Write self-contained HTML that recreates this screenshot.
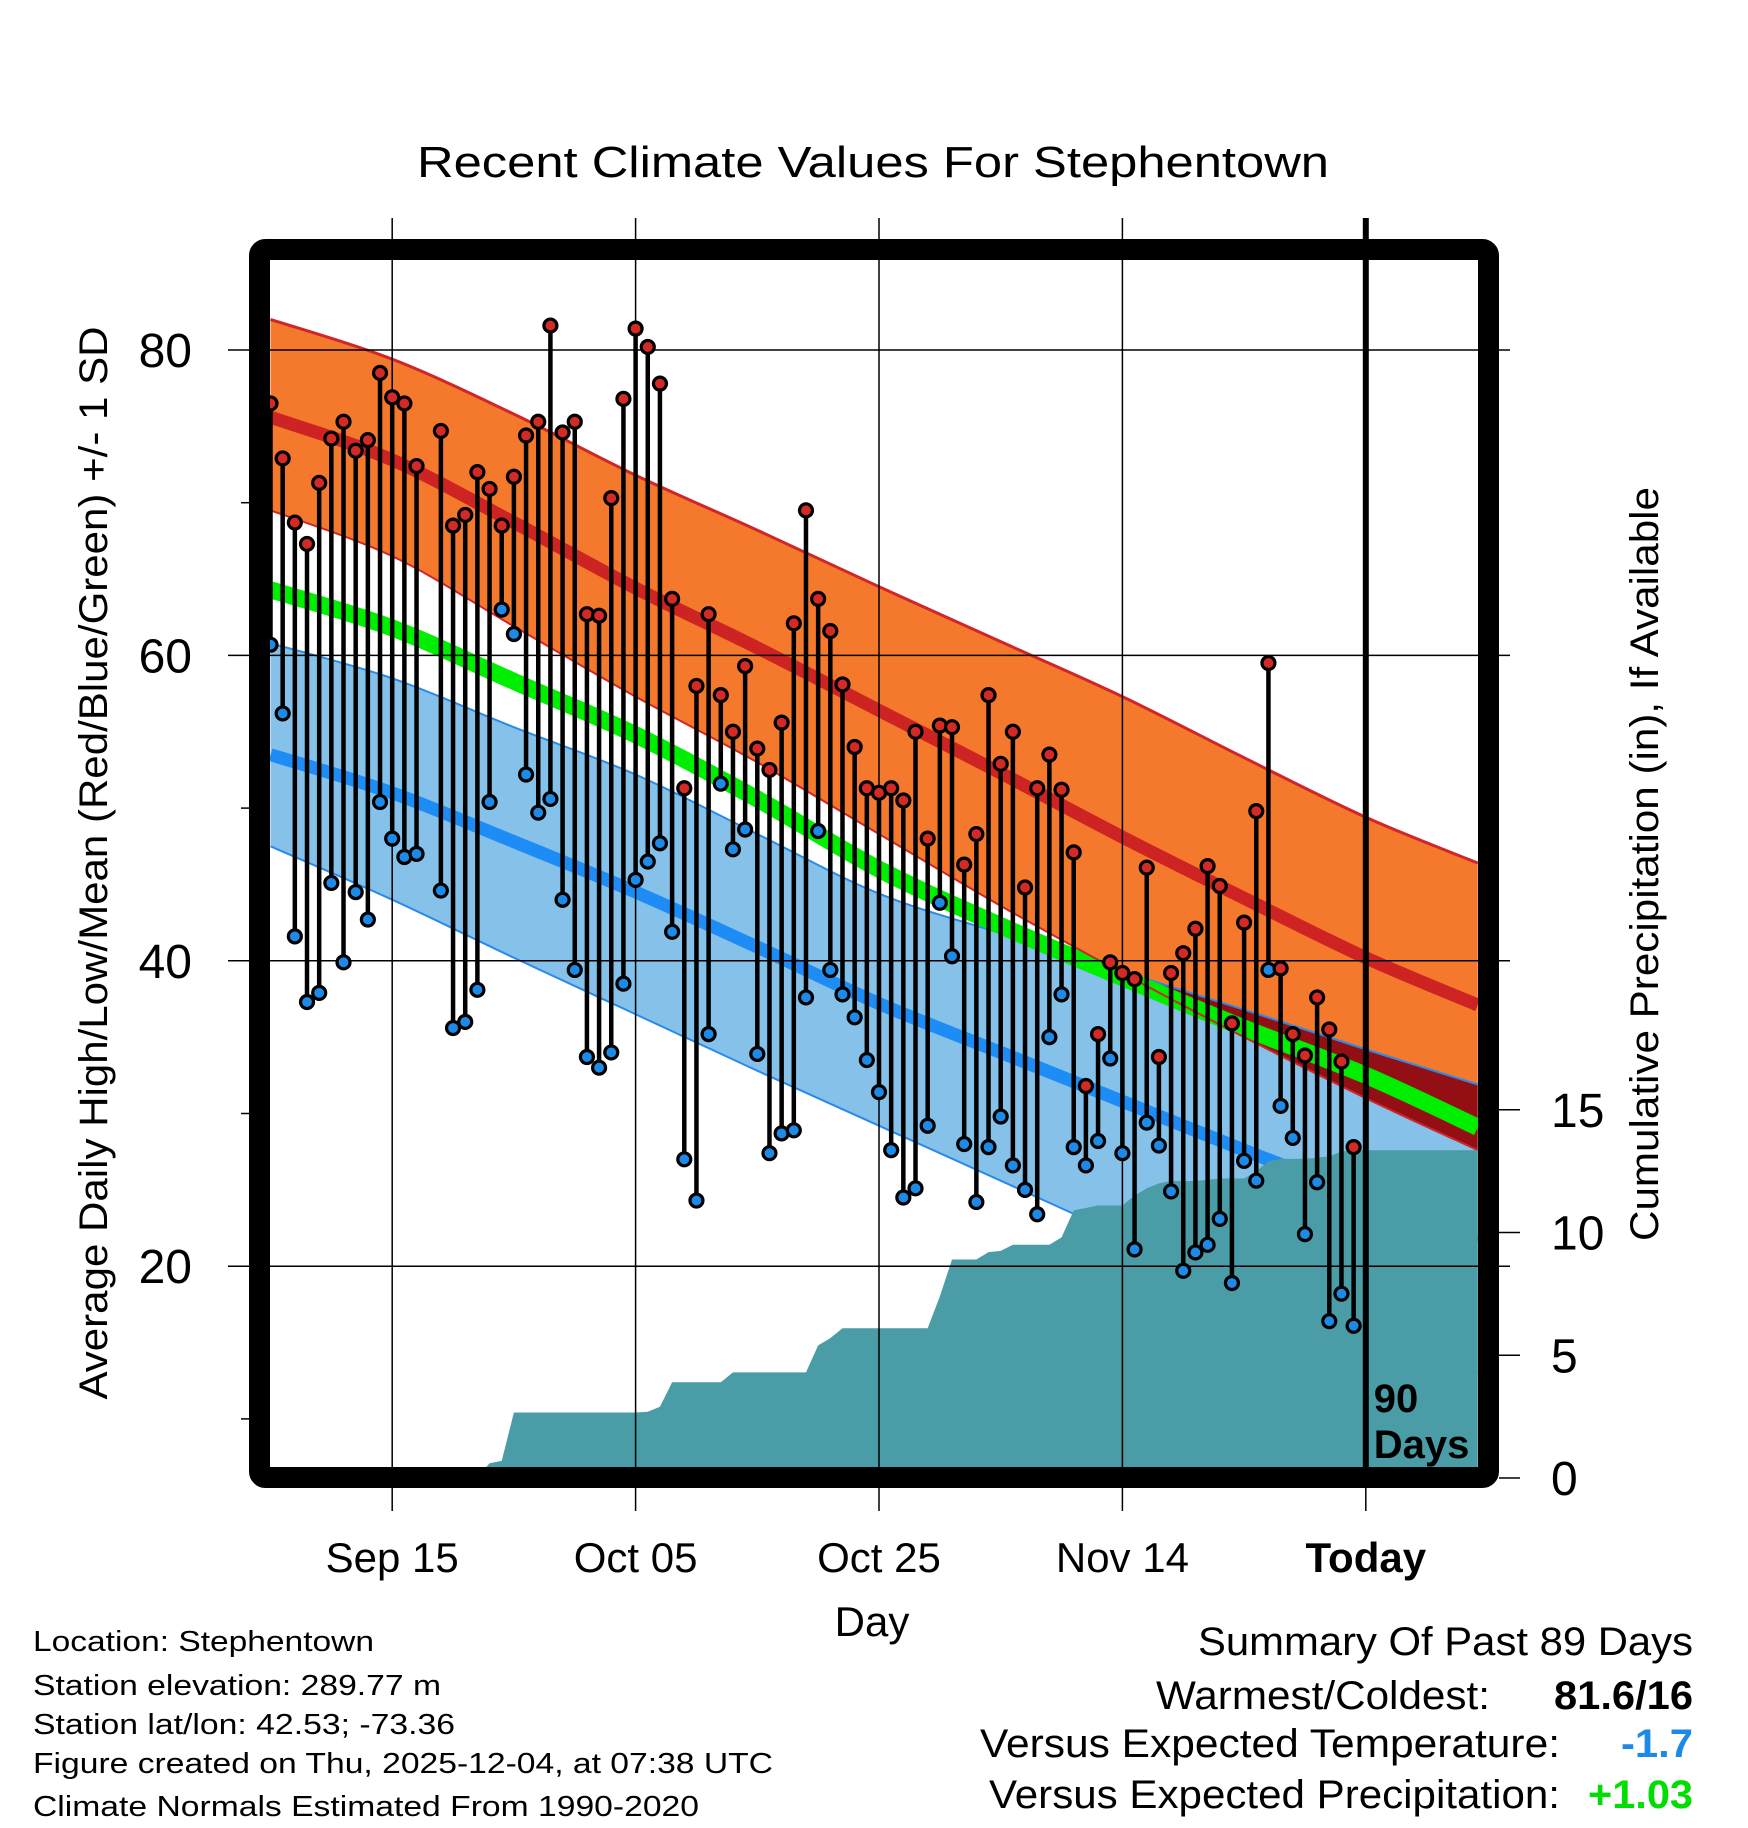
<!DOCTYPE html>
<html><head><meta charset="utf-8"><style>
html,body{margin:0;padding:0;background:#fff;}
svg{display:block;font-family:"Liberation Sans",sans-serif;}
</style></head><body>
<svg id="chart" width="1748" height="1828" viewBox="0 0 1748 1828" xmlns="http://www.w3.org/2000/svg">
<defs>
<clipPath id="plotClip"><rect x="270" y="260" width="1208" height="1208"/></clipPath>
<clipPath id="blueClip"><path id="blueClipPath" d=""/></clipPath>
</defs>
<text x="873" y="177" font-size="44" text-anchor="middle" textLength="912" lengthAdjust="spacingAndGlyphs">Recent Climate Values For Stephentown</text>
<g id="plot" clip-path="url(#plotClip)"></g>
<g id="grid"></g>
<g id="marks" clip-path="url(#plotClip)"></g>
<rect x="259.5" y="249.5" width="1229" height="1228" fill="none" stroke="#000" stroke-width="21" rx="6"/>
<g id="today"></g>
<g id="axes"></g>
<text transform="translate(107,863) rotate(-90)" font-size="40" text-anchor="middle" textLength="1073" lengthAdjust="spacingAndGlyphs">Average Daily High/Low/Mean (Red/Blue/Green) +/- 1 SD</text>
<text transform="translate(1658,864) rotate(-90)" font-size="40" text-anchor="middle" textLength="754" lengthAdjust="spacingAndGlyphs">Cumulative Precipitation (in), If Available</text>
<text x="872" y="1636" font-size="42" text-anchor="middle">Day</text>
<g font-size="29">
<text x="33" y="1651" textLength="341" lengthAdjust="spacingAndGlyphs">Location: Stephentown</text>
<text x="33" y="1695" textLength="408" lengthAdjust="spacingAndGlyphs">Station elevation: 289.77 m</text>
<text x="33" y="1734" textLength="422" lengthAdjust="spacingAndGlyphs">Station lat/lon: 42.53; -73.36</text>
<text x="33" y="1773" textLength="740" lengthAdjust="spacingAndGlyphs">Figure created on Thu, 2025-12-04, at 07:38 UTC</text>
<text x="33" y="1816" textLength="666" lengthAdjust="spacingAndGlyphs">Climate Normals Estimated From 1990-2020</text>
</g>
<g font-size="40">
<text x="1693" y="1655" text-anchor="end" textLength="495" lengthAdjust="spacingAndGlyphs">Summary Of Past 89 Days</text>
<text x="1490" y="1709" text-anchor="end" textLength="334" lengthAdjust="spacingAndGlyphs">Warmest/Coldest:</text>
<text x="1693" y="1709" text-anchor="end" font-weight="bold" textLength="139" lengthAdjust="spacingAndGlyphs">81.6/16</text>
<text x="1560" y="1757" text-anchor="end" textLength="580" lengthAdjust="spacingAndGlyphs">Versus Expected Temperature:</text>
<text x="1693" y="1757" text-anchor="end" font-weight="bold" fill="#1e8ae8" textLength="72" lengthAdjust="spacingAndGlyphs">-1.7</text>
<text x="1560" y="1808" text-anchor="end" textLength="571" lengthAdjust="spacingAndGlyphs">Versus Expected Precipitation:</text>
<text x="1693" y="1808" text-anchor="end" font-weight="bold" fill="#00dd00" textLength="105" lengthAdjust="spacingAndGlyphs">+1.03</text>
</g>
</svg>
<script>
// ---- data ----
const highs = [76.5,72.9,68.7,67.3,71.3,74.2,75.3,73.4,74.1,78.5,
76.9,76.5,72.4,null,74.7,68.5,69.2,72.0,70.9,68.5,
71.7,74.4,75.3,81.6,74.6,75.3,62.7,62.6,70.3,76.8,
81.4,80.2,77.8,63.7,51.3,58.0,62.7,57.4,55.0,59.3,
53.9,52.5,55.6,62.1,69.5,63.7,61.6,58.1,54.0,51.3,
51.0,51.3,50.5,55.0,48.0,55.4,55.3,46.3,48.3,57.4,
52.9,55.0,44.8,51.3,53.5,51.2,47.1,31.8,35.2,39.9,
39.2,38.8,46.1,33.7,39.2,40.5,42.1,46.2,44.9,35.9,
42.5,49.8,59.5,39.5,35.2,33.8,37.6,35.5,33.4,27.8];
const lows = [60.7,56.2,41.6,37.3,37.9,45.1,39.9,44.5,42.7,50.4,
48.0,46.8,47.0,null,44.6,35.6,36.0,38.1,50.4,63.0,
61.4,52.2,49.7,50.6,44.0,39.4,33.7,33.0,34.0,38.5,
45.3,46.5,47.7,41.9,27.0,24.3,35.2,51.6,47.3,48.6,
33.9,27.4,28.7,28.9,37.6,48.5,39.4,37.8,36.3,33.5,
31.4,27.6,24.5,25.1,29.2,43.8,40.3,28.0,24.2,27.8,
29.8,26.6,25.0,23.4,35.0,37.8,27.8,26.6,28.2,33.6,
27.4,21.1,29.4,27.9,24.9,19.7,20.9,21.4,23.1,18.9,
26.9,25.6,39.4,30.5,28.4,22.1,25.5,16.4,18.2,16.1];
const precip = [0,0,0,0,0,0,0,0,0,0,
0,0,0,0,0,0,0,0.05,0.6,0.7,
2.67,2.67,2.67,2.67,2.67,2.67,2.67,2.67,2.67,2.67,
2.67,2.7,2.9,3.9,3.9,3.9,3.9,3.9,4.3,4.3,
4.3,4.3,4.3,4.3,4.3,5.4,5.7,6.1,6.1,6.1,
6.1,6.1,6.1,6.1,6.1,7.4,8.9,8.9,8.9,9.2,
9.25,9.5,9.5,9.5,9.5,9.8,10.9,11.0,11.1,11.1,
11.1,11.5,11.8,12.0,12.1,12.1,12.1,12.15,12.2,12.2,
12.2,12.5,12.9,13.0,13.0,13.0,13.05,13.1,13.3,13.35];
const normDays   = [0,10,20,30,40,50,60,70,80,90,99.2];
const highPlusSD = [82.0,79.4,75.8,71.8,68.2,64.5,60.9,57.3,53.3,49.4,46.4];
const normHigh   = [75.6,72.8,68.7,64.4,60.5,56.4,52.3,48.1,44.1,40.2,37.1];
const highMinusSD= [69.5,66.5,61.9,57.3,53.0,48.3,43.6,39.2,35.0,31.0,27.6];
const normMean   = [64.3,61.8,58.3,54.8,50.6,46.0,42.3,38.9,35.6,32.5,29.1];
const lowPlusSD  = [60.8,58.5,55.3,52.2,48.3,44.4,41.8,39.3,36.8,34.2,31.9];
const normLow    = [53.5,51.0,47.8,44.5,40.9,37.2,34.0,30.8,27.6,24.5,21.6];
const lowMinusSD = [47.5,44.0,40.2,36.5,32.8,29.2,25.6,22.0,18.6,15.5,13.0];
const tempTicks = [80,60,40,20];
const tempMinorTicks = [70,50,30,10];
const precipTicks = [0,5,10,15];
const dateTickDays = [10,30,50,70,90];
const dateTickLabels = ["Sep 15","Oct 05","Oct 25","Nov 14","Today"];
const lastDay = 99.2;

// ---- scales ----
const xD = d => 270.5 + d * 12.17;
const yT = v => 350 + (80 - v) * 15.27;
const yP = p => 1478 - p * 24.55;
const NS = "http://www.w3.org/2000/svg";
function mk(tag, attrs, parent) {
  const e = document.createElementNS(NS, tag);
  for (const k in attrs) e.setAttribute(k, attrs[k]);
  parent.appendChild(e);
  return e;
}
function pts(arr) { return normDays.map((d, i) => [xD(d), yT(arr[i])]); }
// Catmull-Rom spline segments (without the initial move)
function splineSeg(p) {
  let s = "";
  for (let i = 0; i < p.length - 1; i++) {
    const p0 = p[Math.max(i - 1, 0)], p1 = p[i], p2 = p[i + 1], p3 = p[Math.min(i + 2, p.length - 1)];
    const c1x = p1[0] + (p2[0] - p0[0]) / 6, c1y = p1[1] + (p2[1] - p0[1]) / 6;
    const c2x = p2[0] - (p3[0] - p1[0]) / 6, c2y = p2[1] - (p3[1] - p1[1]) / 6;
    s += " C" + c1x + "," + c1y + " " + c2x + "," + c2y + " " + p2[0] + "," + p2[1];
  }
  return s;
}
function linePath(arr) { const p = pts(arr); return "M" + p[0][0] + "," + p[0][1] + splineSeg(p); }
function bandPath(top, bot) {
  const a = pts(top), b = pts(bot).reverse();
  return "M" + a[0][0] + "," + a[0][1] + splineSeg(a) + " L" + b[0][0] + "," + b[0][1] + splineSeg(b) + " Z";
}
const plot = document.getElementById("plot");
const blueBand = bandPath(lowPlusSD, lowMinusSD);
const orangeBand = bandPath(highPlusSD, highMinusSD);
document.getElementById("blueClipPath").setAttribute("d", blueBand);

let e;
e = mk("path", {d: blueBand, fill: "#85c1e9"}, plot);


e = mk("path", {d: orangeBand, fill: "#f4792d"}, plot);


e = mk("path", {d: orangeBand, fill: "#930f14", "clip-path": "url(#blueClip)"}, plot);


e = mk("path", {d: linePath(normLow), fill: "none", stroke: "#1e8cf5", "stroke-width": 13}, plot);


e = mk("path", {d: linePath(lowPlusSD), fill: "none", stroke: "#2a8ae8", "stroke-width": 2}, plot);


e = mk("path", {d: linePath(lowMinusSD), fill: "none", stroke: "#2a8ae8", "stroke-width": 2}, plot);


e = mk("path", {d: linePath(normMean), fill: "none", stroke: "#00ee00", "stroke-width": 17}, plot);


e = mk("path", {d: linePath(highPlusSD), fill: "none", stroke: "#d0262a", "stroke-width": 3}, plot);


e = mk("path", {d: linePath(highMinusSD), fill: "none", stroke: "#d0262a", "stroke-width": 2}, plot);


e = mk("path", {d: linePath(normHigh), fill: "none", stroke: "#cd2323", "stroke-width": 13}, plot);



// precipitation area
let pd = "M" + xD(0) + ",1470";
precip.forEach((p, i) => { pd += " L" + xD(i) + "," + yP(p); });
pd += " L" + xD(lastDay) + "," + yP(precip[precip.length - 1]) + " L" + xD(lastDay) + ",1470 Z";
e = mk("path", {d: pd, fill: "#4a9ca6"}, plot);



// grid
const grid = document.getElementById("grid");
tempTicks.forEach(v => {
  const g = mk("line", {x1: 228, x2: 1510, y1: yT(v), y2: yT(v), stroke: "#000", "stroke-width": 1.5}, grid);
  
  
});
dateTickDays.slice(0, 4).forEach(d => {
  const g = mk("line", {x1: xD(d), x2: xD(d), y1: 218, y2: 1511, stroke: "#000", "stroke-width": 1.5}, grid);
  
  
});

// daily marks
const marks = document.getElementById("marks");
highs.forEach((h, i) => {
  const l = lows[i];
  if (h == null || l == null) return;
  const x = xD(i);
  const s = mk("line", {x1: x, x2: x, y1: yT(h), y2: yT(l), stroke: "#000", "stroke-width": 4.5}, marks);
  
  
  const c1 = mk("circle", {cx: x, cy: yT(h), r: 6.5, fill: "#d42a26", stroke: "#000", "stroke-width": 3.2}, marks);
  
  
  const c2 = mk("circle", {cx: x, cy: yT(l), r: 6.5, fill: "#1e8ae8", stroke: "#000", "stroke-width": 3.2}, marks);
  
  
});

// today marker
const today = document.getElementById("today");
e = mk("line", {x1: xD(90), x2: xD(90), y1: 218, y2: 1470, stroke: "#000", "stroke-width": 6}, today);


e = mk("line", {x1: xD(90), x2: xD(90), y1: 1488, y2: 1511, stroke: "#000", "stroke-width": 1.5}, today);


e = mk("text", {x: xD(90) + 8, y: 1412, "font-size": 40, "font-weight": "bold"}, today);
e.textContent = "90";


e = mk("text", {x: xD(90) + 8, y: 1458, "font-size": 40, "font-weight": "bold"}, today);
e.textContent = "Days";



// axes labels
const axes = document.getElementById("axes");
tempTicks.forEach(v => {
  const t = mk("text", {x: 192, y: yT(v) + 17, "font-size": 48, "text-anchor": "end"}, axes);
  t.textContent = v;
  
  
});
tempMinorTicks.forEach(v => {
  const t = mk("line", {x1: 241, x2: 250, y1: yT(v), y2: yT(v), stroke: "#000", "stroke-width": 1.5}, axes);
  
  
});
precipTicks.forEach(p => {
  const t = mk("line", {x1: 1499, x2: 1520, y1: yP(p), y2: yP(p), stroke: "#000", "stroke-width": 1.5}, axes);
  
  
  const l = mk("text", {x: 1551, y: yP(p) + 17, "font-size": 48}, axes);
  l.textContent = p;
  
  
});
dateTickDays.forEach((d, i) => {
  const t = mk("text", {x: xD(d), y: 1572, "font-size": 42, "text-anchor": "middle"}, axes);
  if (i === 4) t.setAttribute("font-weight", "bold");
  t.textContent = dateTickLabels[i];
  
  
});
</script>
</body></html>
